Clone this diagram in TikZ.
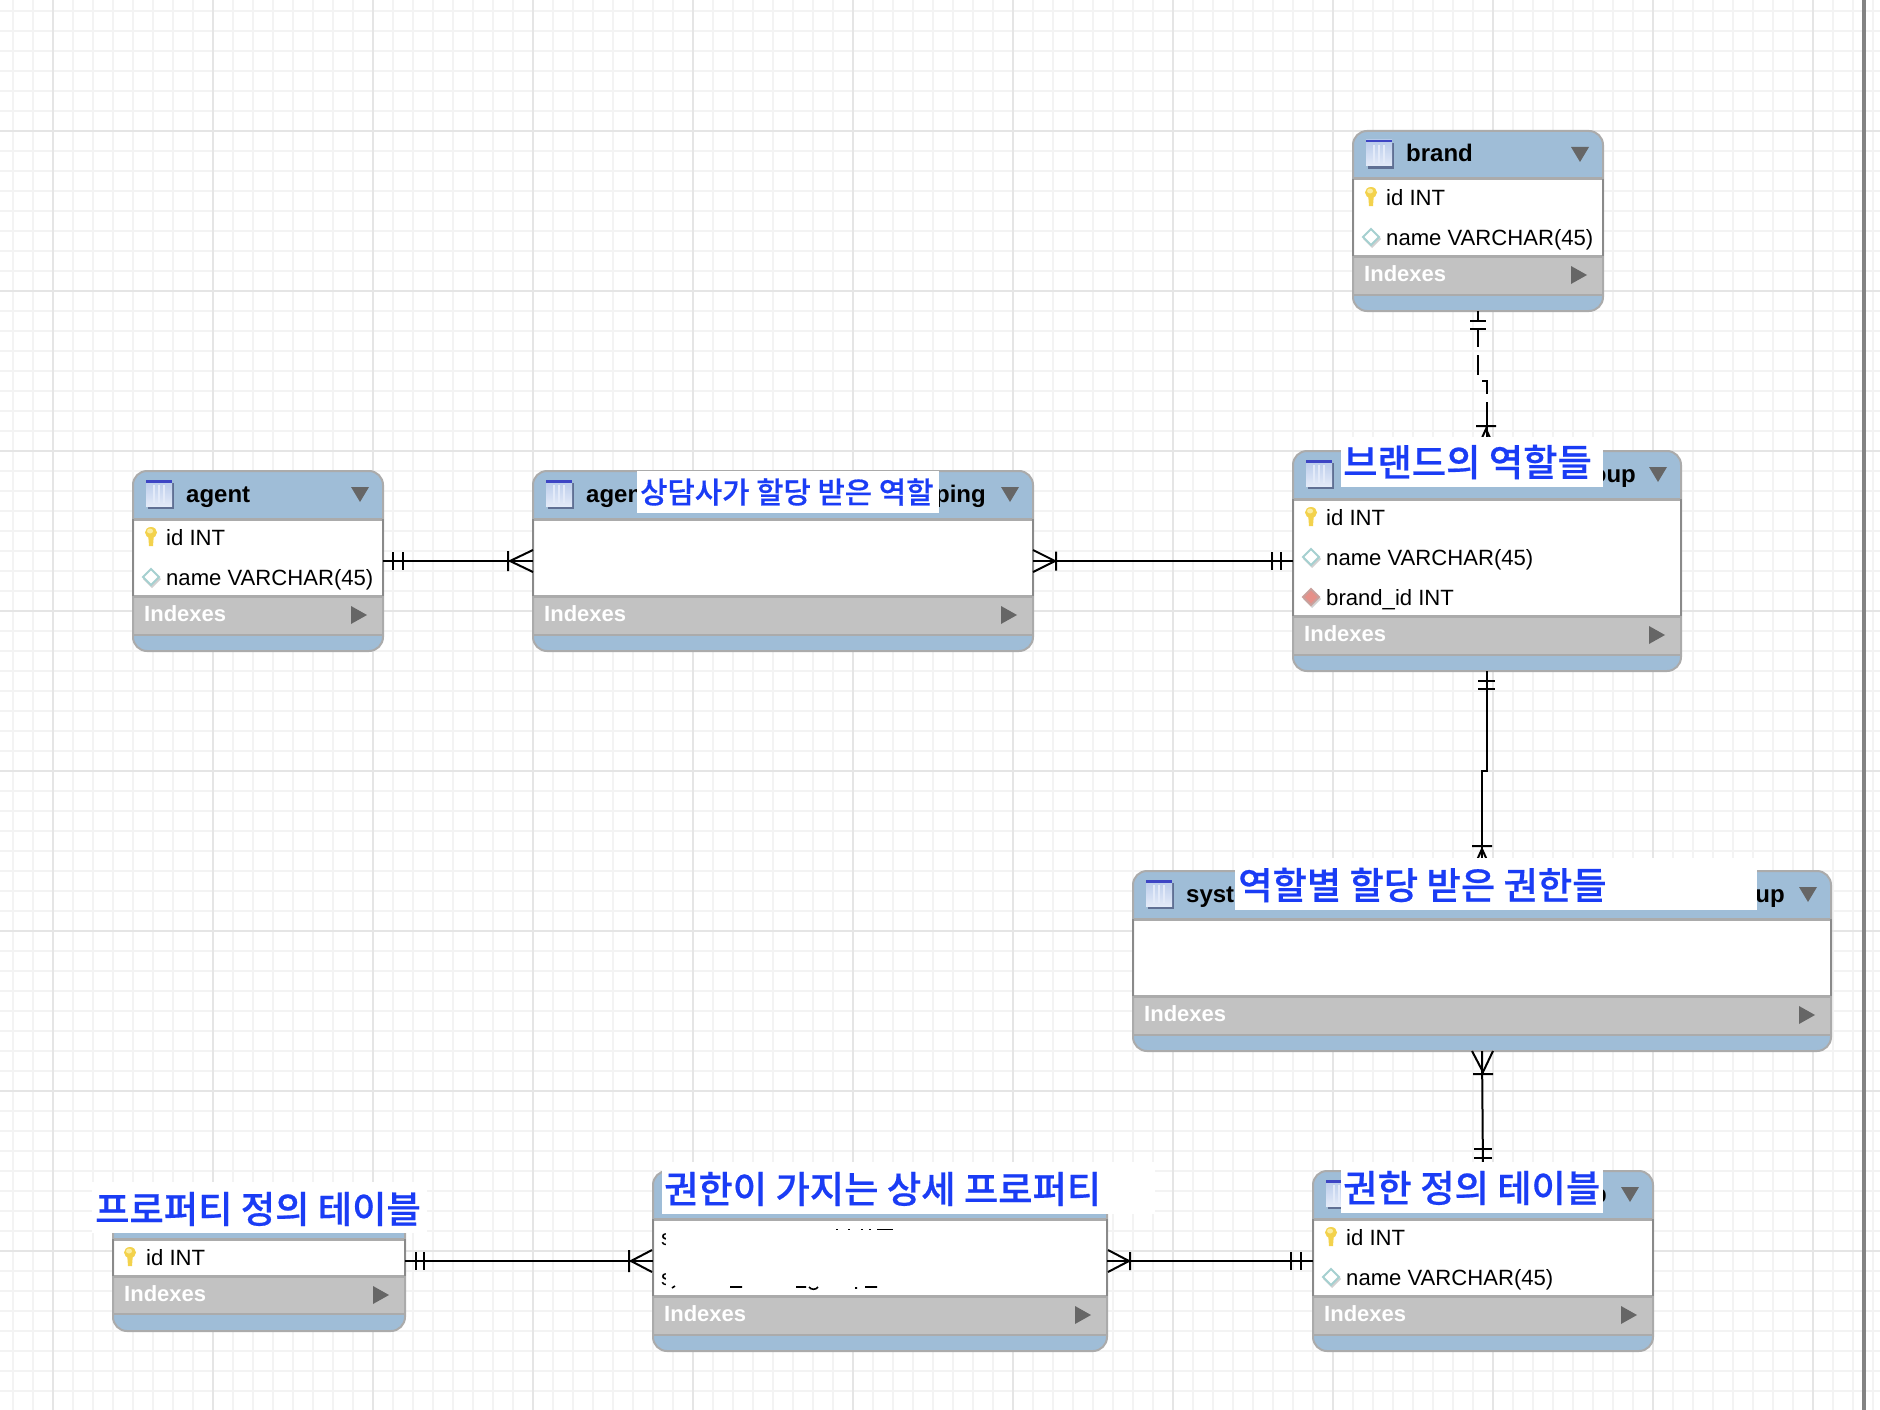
\documentclass[tikz,border=0pt]{standalone}
\usepackage{fontspec}
\setmainfont{Liberation Sans}
\newfontfamily\kor[UprightFont={* Medium},FakeBold=0.5]{Noto Sans CJK KR}
\definecolor{hdrc}{HTML}{9FBDD7}
\definecolor{idxc}{HTML}{C2C2C2}
\definecolor{edgec}{HTML}{ABABAB}
\definecolor{sidec}{HTML}{8A8A8A}
\definecolor{tric}{HTML}{666666}
\definecolor{labc}{HTML}{1A3CF5}
\definecolor{gmin}{HTML}{F3F3F3}
\definecolor{gmaj}{HTML}{E5E5E5}
\definecolor{iconbar}{HTML}{3D45C4}
\definecolor{icontop}{HTML}{B9CBEA}
\definecolor{iconbot}{HTML}{E3EAF8}
\definecolor{iconshadow}{HTML}{5F6F93}
\definecolor{keyc}{HTML}{F3D24C}
\definecolor{keyl}{HTML}{FBEDA0}
\definecolor{gemedge}{HTML}{A5D0D0}
\definecolor{redfill}{HTML}{E69089}
\definecolor{rededge}{HTML}{C9A09C}
\tikzset{
  rel/.style={draw=black,line width=2pt},
  patchbox/.style={fill=white,draw=none},
  titletext/.style={anchor=base west,inner sep=0pt,font=\fontsize{24}{26}\selectfont\bfseries},
  titleright/.style={anchor=base east,inner sep=0pt,font=\fontsize{24}{26}\selectfont\bfseries},
  coltext/.style={anchor=base west,inner sep=0pt,font=\fontsize{22.1}{26}\selectfont},
  idxtext/.style={anchor=base west,inner sep=0pt,text=white,font=\fontsize{22}{26}\selectfont\bfseries},
  labtext/.style={anchor=west,inner sep=0pt,text=labc,font=\kor\fontsize{37.3}{42}\selectfont},
  smalllab/.style={anchor=west,inner sep=0pt,text=labc,font=\kor\fontsize{29.7}{34}\selectfont},
  frag/.style={draw=black,line width=1.6pt}
}
% name, left, right, top, header bottom, body bottom, index bottom, end
\newcommand{\erbox}[8]{%
  \node[minimum width=#3pt-#2pt,minimum height=#8pt-#4pt,inner sep=0pt,outer sep=0pt,anchor=north west] (#1) at (#2,#4) {};
  \fill[hdrc,rounded corners=14pt] (#2,#4) rectangle (#3,#8);
  \fill[white] (#2,#5) rectangle (#3,#6);
  \fill[idxc] (#2,#6) rectangle (#3,#7);
  \draw[edgec,line width=3pt] (#2,#5) -- (#3,#5);
  \draw[edgec,line width=3pt] (#2,#6) -- (#3,#6);
  \draw[edgec,line width=2pt] (#2,#7) -- (#3,#7);
  \draw[edgec,line width=2pt,rounded corners=14pt] (#2,#4) rectangle (#3,#8);
  \draw[sidec,line width=2pt] (#2,#5) -- (#2,#6) (#3,#5) -- (#3,#6);
  \fill[tric] ({#3-32},{#4+16}) -- ({#3-14},{#4+16}) -- ({#3-23},{#4+31}) -- cycle;
  \fill[tric] ({#3-32},{#6+10}) -- ({#3-32},{#6+28}) -- ({#3-16},{#6+19}) -- cycle;
  \node[idxtext] (#1idx) at ({#2+11},{#6+25}) {Indexes};
}
\newcommand{\tabicon}[2]{%
  \fill[iconshadow] ({#1+2},{#2+3}) rectangle ({#1+28},{#2+29});
  \shade[top color=icontop,bottom color=iconbot] (#1,#2) rectangle ({#1+26},{#2+26});
  \foreach \q in {8,13,18} \draw[iconbot,line width=1.5pt] ({#1+\q},{#2+5}) -- ({#1+\q},{#2+23});
  \fill[iconbar] (#1,#2) rectangle ({#1+26},{#2+2.5});
}
\newcommand{\keyicon}[2]{%
  \fill[keyc] ({#1-3},{#2+6}) -- ({#1+3},{#2+6}) -- ({#1+2},{#2+19}) -- ({#1-2},{#2+19}) -- cycle;
  \fill[keyc] (#1,{#2+5.5}) ellipse [x radius=6,y radius=5.5];
  \fill[keyl] ({#1-1},{#2+4}) ellipse [x radius=3,y radius=2.5];
}
\newcommand{\gem}[4]{%
  \fill[black!18] ({#1+1},{#2-7}) -- ({#1+10},{#2+2}) -- ({#1+1},{#2+11}) -- ({#1-8},{#2+2}) -- cycle;
  \filldraw[draw=#3,fill=#4,line width=2pt] (#1,{#2-8}) -- ({#1+8},#2) -- (#1,{#2+8}) -- ({#1-8},#2) -- cycle;
}
\begin{document}
\begin{tikzpicture}[x=1pt,y=-1pt]
\useasboundingbox (0,0) rectangle (1880,1410);
\fill[white] (0,0) rectangle (1880,1410);
% grid
\foreach \k in {0,...,93} \draw[gmin,line width=2pt] ({13+20*\k},0) -- ({13+20*\k},1410);
\foreach \k in {0,...,70} \draw[gmin,line width=2pt] (0,{11+20*\k}) -- (1880,{11+20*\k});
\foreach \k in {0,...,11} \draw[gmaj,line width=2pt] ({53+160*\k},0) -- ({53+160*\k},1410);
\foreach \k in {0,...,8} \draw[gmaj,line width=2pt] (0,{131+160*(\k)}) -- (1880,{131+160*(\k)});
\fill[sidec!95!black] (1862,0) rectangle (1866,1410);

% tables (nodes first, so that connectors can name them)
\erbox{brand}{1353}{1603}{131}{179}{256}{295}{311}
\erbox{agent}{133}{383}{471}{519}{596}{635}{651}
\erbox{mapping}{533}{1033}{471}{519}{596}{635}{651}
\erbox{role}{1293}{1681}{451}{499}{616}{655}{671}
\erbox{sysrole}{1133}{1831}{871}{919}{996}{1035}{1051}
\erbox{perm}{1313}{1653}{1171}{1219}{1296}{1335}{1351}
\erbox{detail}{653}{1107}{1171}{1219}{1296}{1335}{1351}
\erbox{prop}{113}{405}{1191}{1239}{1276}{1314}{1331}

% connectors
\draw[rel] (agent.east) -- (mapping.west);
\draw[rel] (393,552) -- (393,570) (403,552) -- (403,570);
\draw[rel] (508,551) -- (508,571) (533,550) -- (510,561) -- (533,572);

\draw[rel] (mapping.east) -- (role.west);
\draw[rel] (1033,550) -- (1055,561) -- (1033,572) (1056,551.5) -- (1056,570.5);
\draw[rel] (1272,552) -- (1272,570) (1281,552) -- (1281,570);

\coordinate (j1) at (1478,381);
\coordinate (j2) at (1487,381);
\draw[rel,dash pattern=on 9pt off 9pt on 18pt off 8pt on 20pt off 10pt on 18pt off 8pt on 60pt off 1pt] (brand.south) -- (j1) -- (j2) -- (role.north);
\draw[rel] (1470,321) -- (1486,321) (1470,329) -- (1486,329);
\draw[rel] (1476,426) -- (1496,426) (1476,451) -- (1486,429) -- (1496,451);

\coordinate (j3) at (1487,771);
\coordinate (j4) at (1482,771);
\draw[rel] (role.south) -- (j3) -- (j4) -- (sysrole.north);
\draw[rel] (1478,681) -- (1495,681) (1478,689) -- (1495,689);
\draw[rel] (1472,846) -- (1492,846) (1472,871) -- (1482,849) -- (1492,871);

\draw[rel] (sysrole.south) -- (perm.north);
\draw[rel] (1472,1051) -- (1483,1072) -- (1493,1051) (1473,1074) -- (1493,1074);
\draw[rel] (1474,1149) -- (1492,1149) (1474,1158) -- (1492,1158);

\draw[rel] (detail.east) -- (perm.west);
\draw[rel] (1108,1250) -- (1129,1261) -- (1108,1272) (1130,1252) -- (1130,1270);
\draw[rel] (1291,1252) -- (1291,1270) (1301,1252) -- (1301,1270);

\draw[rel] (prop.east) -- (detail.west);
\draw[rel] (416,1252) -- (416,1270) (424,1252) -- (424,1270);
\draw[rel] (629,1250) -- (629,1272) (652,1250) -- (631,1261) -- (652,1272);

% brand
\tabicon{1366}{140}
\node[titletext] (t1) at (1406,162) {brand};
\keyicon{1371}{187}
\node[coltext] (c1) at (1386,205) {id INT};
\gem{1371}{237}{gemedge}{white}
\node[coltext] (c2) at (1386,245) {name VARCHAR(45)};

% agent
\tabicon{146}{480}
\node[titletext] (t2) at (186,502) {agent};
\keyicon{151}{527}
\node[coltext] (c3) at (166,545) {id INT};
\gem{151}{577}{gemedge}{white}
\node[coltext] (c4) at (166,585) {name VARCHAR(45)};

% mapping
\tabicon{546}{480}
\node[titletext] (t3) at (586,502) {agen};
\node[titleright] (t4) at (986,502) {ping};
\fill[patchbox] (637,471) rectangle (939,513);
\node[smalllab] (l1) at (640,492) {상담사가 할당 받은 역할};

% role
\tabicon{1306}{460}
\node[titleright] (t5) at (1636,482) {oup};
\keyicon{1311}{507}
\node[coltext] (c5) at (1326,525) {id INT};
\gem{1311}{557}{gemedge}{white}
\node[coltext] (c6) at (1326,565) {name VARCHAR(45)};
\gem{1311}{597}{rededge}{redfill}
\node[coltext] (c7) at (1326,605) {brand\_id INT};
\fill[patchbox] (1341,437) rectangle (1603,487);
\node[labtext] (l2) at (1343,462) {브랜드의 역할들};

% system role
\tabicon{1146}{880}
\node[titletext] (t6) at (1186,902) {syste};
\node[titleright] (t7) at (1785,902) {up};
\fill[patchbox] (1235,858) rectangle (1757,910);
\node[labtext] (l3) at (1238,885) {역할별 할당 받은 권한들};

% permission
\tabicon{1326}{1180}
\node[titleright] (t8) at (1607,1202) {p};
\keyicon{1331}{1227}
\node[coltext] (c8) at (1346,1245) {id INT};
\gem{1331}{1277}{gemedge}{white}
\node[coltext] (c9) at (1346,1285) {name VARCHAR(45)};
\fill[patchbox] (1341,1162) rectangle (1603,1213);
\node[labtext] (l4) at (1343,1188) {권한 정의 테이블};

% detail
\node[coltext] (c10) at (661,1245) {s};
\node[coltext] (c11) at (661,1285) {s};
\fill[patchbox] (666,1228) rectangle (680,1292);
\draw[frag] (836,1229.5) -- (838,1229.5) (848,1229.5) -- (850,1229.5) (861,1229.5) -- (863,1229.5) (869,1229.5) -- (871,1229.5) (877,1229.5) -- (893,1229.5);
\draw[frag] (672,1288) -- (675,1286) (730,1287) -- (742,1287) (796,1287) -- (806,1287) (855,1288) -- (857,1288) (865,1287) -- (877,1287);
\draw[frag] (809,1287) .. controls (811,1290) and (816,1290) .. (818,1287);
\fill[patchbox] (662,1162) rectangle (1155,1214);
\node[labtext] (l5) at (664,1189) {권한이 가지는 상세 프로퍼티};

% property
\keyicon{130}{1247}
\node[coltext] (c12) at (146,1265) {id INT};
\fill[patchbox] (92,1182) rectangle (427,1233);
\node[labtext] (l6) at (95,1209) {프로퍼티 정의 테이블};
\end{tikzpicture}
\end{document}
